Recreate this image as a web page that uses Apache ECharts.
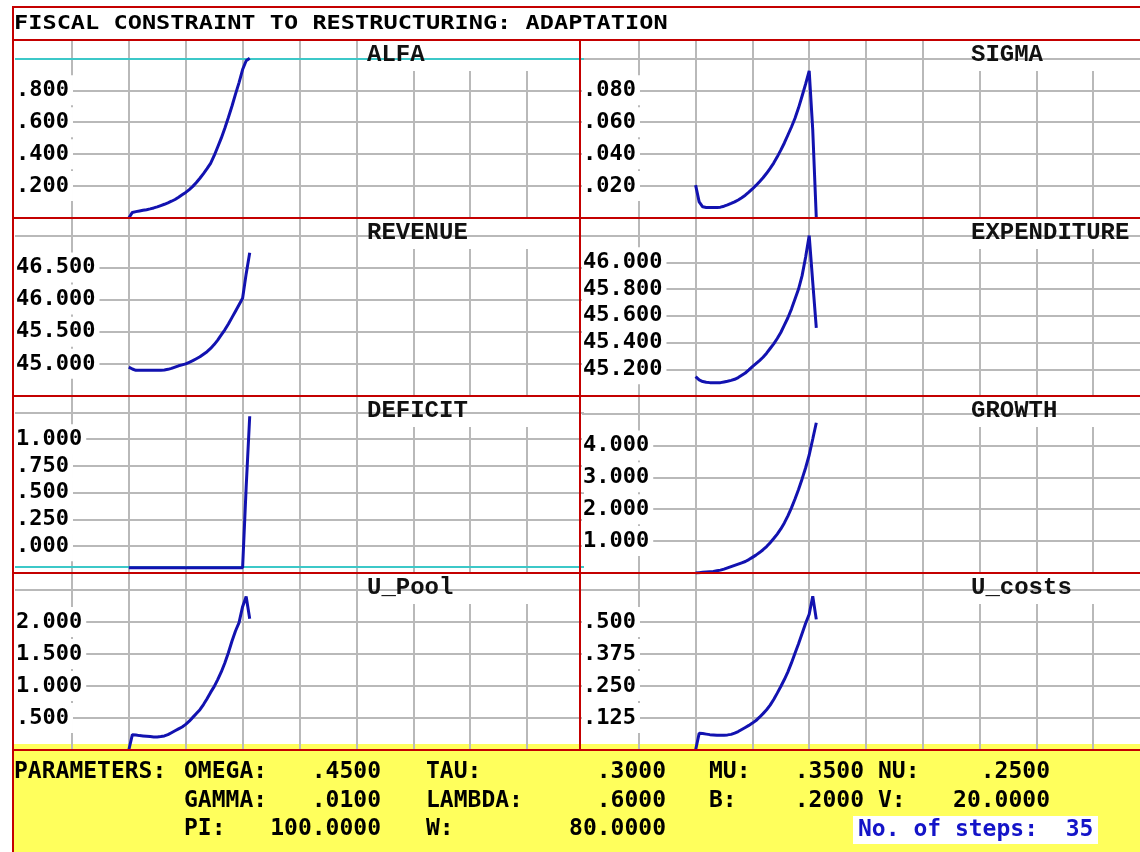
<!DOCTYPE html>
<html><head><meta charset="utf-8">
<script src="https://cdn.jsdelivr.net/npm/echarts@6/dist/echarts.min.js"></script>
<style>html,body{margin:0;padding:0;background:#fff}#c{width:1140px;height:852px}</style>
</head><body><div id="c"></div>
<script>
// ---------------- DATA ----------------
const chartTitle = 'FISCAL CONSTRAINT TO RESTRUCTURING: ADAPTATION';
const steps = [0,1,2,3,4,5,6,7,8,9,10,11,12,13,14,15,16,17,18,19,20,21,22,23,24,25,26,27,28,29,30,31,32,33,34];

const alfa = [0.00,0.035,0.040,0.044,0.048,0.052,0.057,0.063,0.070,0.078,0.086,0.095,0.105,0.116,0.130,0.145,0.160,0.178,0.198,0.222,0.249,0.278,0.309,0.342,0.390,0.445,0.500,0.562,0.630,0.700,0.776,0.848,0.930,0.985,1.000];
const sigma = [0.0206,0.0101,0.0070,0.0066,0.0066,0.0066,0.0066,0.0068,0.0074,0.0082,0.0091,0.0101,0.0113,0.0127,0.0143,0.0162,0.0182,0.0204,0.0227,0.0252,0.0280,0.0311,0.0344,0.0383,0.0425,0.0470,0.0520,0.0570,0.0625,0.0690,0.0764,0.0840,0.0922,0.0550,0.0000];
const revenue = [44.95,44.92,44.90,44.90,44.90,44.90,44.90,44.90,44.90,44.90,44.905,44.915,44.93,44.95,44.97,44.985,45.00,45.025,45.05,45.08,45.11,45.15,45.19,45.24,45.30,45.37,45.45,45.53,45.62,45.72,45.82,45.92,46.02,46.40,46.73];
const expenditure = [45.145,45.12,45.108,45.103,45.10,45.10,45.10,45.10,45.105,45.11,45.117,45.125,45.138,45.155,45.172,45.195,45.22,45.242,45.265,45.29,45.32,45.355,45.39,45.43,45.475,45.53,45.585,45.65,45.725,45.80,45.90,46.04,46.20,45.85,45.51];
const deficit = [-0.2,-0.2,-0.2,-0.2,-0.2,-0.2,-0.2,-0.2,-0.2,-0.2,-0.2,-0.2,-0.2,-0.2,-0.2,-0.2,-0.2,-0.2,-0.2,-0.2,-0.2,-0.2,-0.2,-0.2,-0.2,-0.2,-0.2,-0.2,-0.2,-0.2,-0.2,-0.2,-0.2,0.55,1.215];
const growth = [0.00,0.01,0.02,0.03,0.04,0.05,0.07,0.09,0.12,0.16,0.20,0.24,0.28,0.32,0.36,0.42,0.49,0.56,0.64,0.73,0.83,0.95,1.08,1.22,1.38,1.57,1.79,2.04,2.32,2.62,2.95,3.30,3.70,4.20,4.71];
const uPool = [0.00,0.24,0.235,0.225,0.22,0.215,0.21,0.205,0.205,0.21,0.22,0.24,0.27,0.30,0.33,0.36,0.40,0.45,0.51,0.57,0.63,0.71,0.80,0.90,0.99,1.10,1.22,1.36,1.52,1.70,1.86,1.99,2.24,2.40,2.05];
const uCosts = [0.00,0.065,0.064,0.062,0.060,0.059,0.058,0.058,0.058,0.059,0.061,0.066,0.072,0.080,0.088,0.096,0.105,0.115,0.128,0.142,0.157,0.175,0.197,0.222,0.248,0.275,0.305,0.340,0.378,0.415,0.455,0.495,0.530,0.600,0.510];

const panelTitles = ['ALFA','SIGMA','REVENUE','EXPENDITURE','DEFICIT','GROWTH','U_Pool','U_costs'];

const alfaTicks = [0.2,0.4,0.6,0.8];          const alfaLabels = ['.200','.400','.600','.800'];
const sigmaTicks = [0.02,0.04,0.06,0.08];     const sigmaLabels = ['.020','.040','.060','.080'];
const revenueTicks = [45,45.5,46,46.5];       const revenueLabels = ['45.000','45.500','46.000','46.500'];
const expTicks = [45.2,45.4,45.6,45.8,46];    const expLabels = ['45.200','45.400','45.600','45.800','46.000'];
const deficitTicks = [0,0.25,0.5,0.75,1];     const deficitLabels = ['.000','.250','.500','.750','1.000'];
const growthTicks = [1,2,3,4];                const growthLabels = ['1.000','2.000','3.000','4.000'];
const uPoolTicks = [0.5,1,1.5,2];             const uPoolLabels = ['.500','1.000','1.500','2.000'];
const uCostsTicks = [0.125,0.25,0.375,0.5];   const uCostsLabels = ['.125','.250','.375','.500'];

// axis ranges (min, max, interval) per panel
const yMins = [0, 0, 44.5, 45.0, -0.25, 0, 0, 0];
const yMaxs = [1.115, 0.1115, 47.27, 46.331, 1.404, 5.549, 2.766, 0.691];
const yIntervals = [0.2, 0.02, 0.5, 0.2, 0.25, 1, 0.5, 0.125];

// cyan reference lines
const alfaRefLine = [1.0];
const deficitRefLine = [-0.19];

// parameters
const paramHead = 'PARAMETERS:';
const paramNames = [['OMEGA:','TAU:','MU:','NU:'],['GAMMA:','LAMBDA:','B:','V:'],['PI:','W:']];
const paramValues = [['.4500','.3000','.3500','.2500'],['.0100','.6000','.2000','20.0000'],['100.0000','80.0000']];
const stepsText = 'No. of steps:  35';

// ---------------- LAYOUT / STYLE ----------------
const RED = '#c40000', GRID = '#b9b9b9', CYAN = '#3cc8c8', BLUE = '#1212b0', YEL = '#ffff5c';
const rowTop = [40, 218, 396, 573];
const rowH = [178, 178, 177, 177];
const colLeft = [15, 582];
const colW = [569, 568];
const titleX = [367, 971];
const cutX = [359, 925];

const panelData = [alfa, sigma, revenue, expenditure, deficit, growth, uPool, uCosts];
const panelTicks = [alfaTicks, sigmaTicks, revenueTicks, expTicks, deficitTicks, growthTicks, uPoolTicks, uCostsTicks];
const panelLabels = [alfaLabels, sigmaLabels, revenueLabels, expLabels, deficitLabels, growthLabels, uPoolLabels, uCostsLabels];
const panelRefs = [alfaRefLine, null, null, null, deficitRefLine, null, null, null];

const grid = [], xAxis = [], yAxis = [], series = [], graphic = [];

panelTitles.forEach((name, i) => {
  const row = Math.floor(i / 2), col = i % 2;
  grid.push({left: colLeft[col], width: colW[col], top: rowTop[row], height: rowH[row],
             containLabel: false, outerBoundsMode: 'none', show: false});
  xAxis.push({gridIndex: i, type: 'value', min: -32, max: 128, interval: 16, z: 1, position: 'bottom',
    axisLine: {show: false}, axisTick: {show: false}, axisLabel: {show: false},
    splitLine: {show: true, showMinLine: false, showMaxLine: false, lineStyle: {color: GRID, width: 2}}});
  yAxis.push({gridIndex: i, type: 'value', position: 'left', min: yMins[i], max: yMaxs[i], interval: yIntervals[i], z: 3,
    axisLine: {show: false}, axisTick: {show: false}, axisLabel: {show: false},
    splitLine: {show: true, showMinLine: false, showMaxLine: false, lineStyle: {color: GRID, width: 2}}});
  const ticks = panelTicks[i], labs = panelLabels[i];
  yAxis.push({gridIndex: i, type: 'value', position: 'left', offset: 0, min: yMins[i], max: yMaxs[i], interval: yIntervals[i], z: 4,
    axisLine: {show: false}, axisTick: {show: false}, splitLine: {show: false},
    axisLabel: {show: true, margin: 0, align: 'left', hideOverlap: false, showMinLabel: true, showMaxLabel: true,
      formatter: function (v) {
        for (let j = 0; j < ticks.length; j++) if (Math.abs(ticks[j] - v) < 1e-6) return '{a|' + labs[j] + '}';
        return '';
      },
      rich: {a: {fontFamily: 'DejaVu Sans Mono', fontWeight: 'bold', fontSize: 22, color: '#000',
                 backgroundColor: '#fff', padding: [4, 4, 4, 1], lineHeight: 22}}}});
  const s = {type: 'line', xAxisIndex: i, yAxisIndex: 2 * i, z: 5,
    data: steps.map((st, k) => [st, panelData[i][k]]),
    showSymbol: false, symbol: 'none', lineStyle: {color: BLUE, width: 3}, silent: true};
  if (panelRefs[i]) {
    s.markLine = {silent: true, symbol: ['none', 'none'], label: {show: false},
      lineStyle: {color: CYAN, width: 2, type: 'solid'},
      data: panelRefs[i].map(v => ({yAxis: v}))};
  }
  series.push(s);
  // white title area (cuts vertical grid lines)
  graphic.push({type: 'rect', z: 2, silent: true,
    shape: {x: cutX[col], y: rowTop[row] + 1, width: (col === 0 ? 579 : 1140) - cutX[col], height: 30},
    style: {fill: '#fff'}});
  graphic.push({type: 'text', z: 6, silent: true, x: titleX[col], y: rowTop[row] + 15,
    style: {text: name, fill: '#111', fontFamily: 'Liberation Mono', fontWeight: 'bold', fontSize: 24,
            align: 'left', verticalAlign: 'middle', textAlign: 'left', textVerticalAlign: 'middle'}});
});

// yellow parameter area
graphic.push({type: 'rect', z: 0, silent: true, shape: {x: 12, y: 744, width: 1128, height: 108}, style: {fill: YEL}});
// title text
graphic.push({type: 'text', z: 6, silent: true, x: 14, y: 24, scaleX: 1.18,
  style: {text: chartTitle, fill: '#000', fontFamily: 'DejaVu Sans Mono', fontWeight: 'bold', fontSize: 20,
          align: 'left', verticalAlign: 'middle', textAlign: 'left', textVerticalAlign: 'middle'}});
// parameters
const pFont = {fill: '#000', fontFamily: 'DejaVu Sans Mono', fontWeight: 'bold', fontSize: 23, verticalAlign: 'middle', textVerticalAlign: 'middle'};
const nameX = [184, 426, 709, 878], valRight = [381, 666, 864, 1050], pRowY = [772, 801, 829];
graphic.push({type: 'text', z: 6, silent: true, x: 14, y: pRowY[0], style: Object.assign({text: paramHead, align: 'left', textAlign: 'left'}, pFont)});
paramNames.forEach((rowN, r) => rowN.forEach((nm, c) => {
  graphic.push({type: 'text', z: 6, silent: true, x: nameX[c], y: pRowY[r], style: Object.assign({text: nm, align: 'left', textAlign: 'left'}, pFont)});
  graphic.push({type: 'text', z: 6, silent: true, x: valRight[c], y: pRowY[r], style: Object.assign({text: paramValues[r][c], align: 'right', textAlign: 'right'}, pFont)});
}));
graphic.push({type: 'rect', z: 6, silent: true, shape: {x: 853, y: 816, width: 245, height: 28}, style: {fill: '#fff'}});
graphic.push({type: 'text', z: 7, silent: true, x: 858, y: 830,
  style: Object.assign({}, pFont, {text: stepsText, fill: '#1414c8', align: 'left', textAlign: 'left'})});

// red frame lines
function hline(y, x1, x2) { graphic.push({type: 'line', z: 8, silent: true, shape: {x1: x1, y1: y, x2: x2, y2: y}, style: {stroke: RED, lineWidth: 2}}); }
function vline(x, y1, y2) { graphic.push({type: 'line', z: 8, silent: true, shape: {x1: x, y1: y1, x2: x, y2: y2}, style: {stroke: RED, lineWidth: 2}}); }
hline(7, 12, 1140); hline(40, 12, 1140); hline(218, 12, 1140); hline(396, 12, 1140); hline(573, 12, 1140); hline(750, 12, 1140);
vline(13, 7, 852); vline(580, 40, 750);

const chart = echarts.init(document.getElementById('c'), null, {renderer: 'canvas'});
chart.setOption({backgroundColor: '#fff', animation: false, grid, xAxis, yAxis, series, graphic});
</script></body></html>
